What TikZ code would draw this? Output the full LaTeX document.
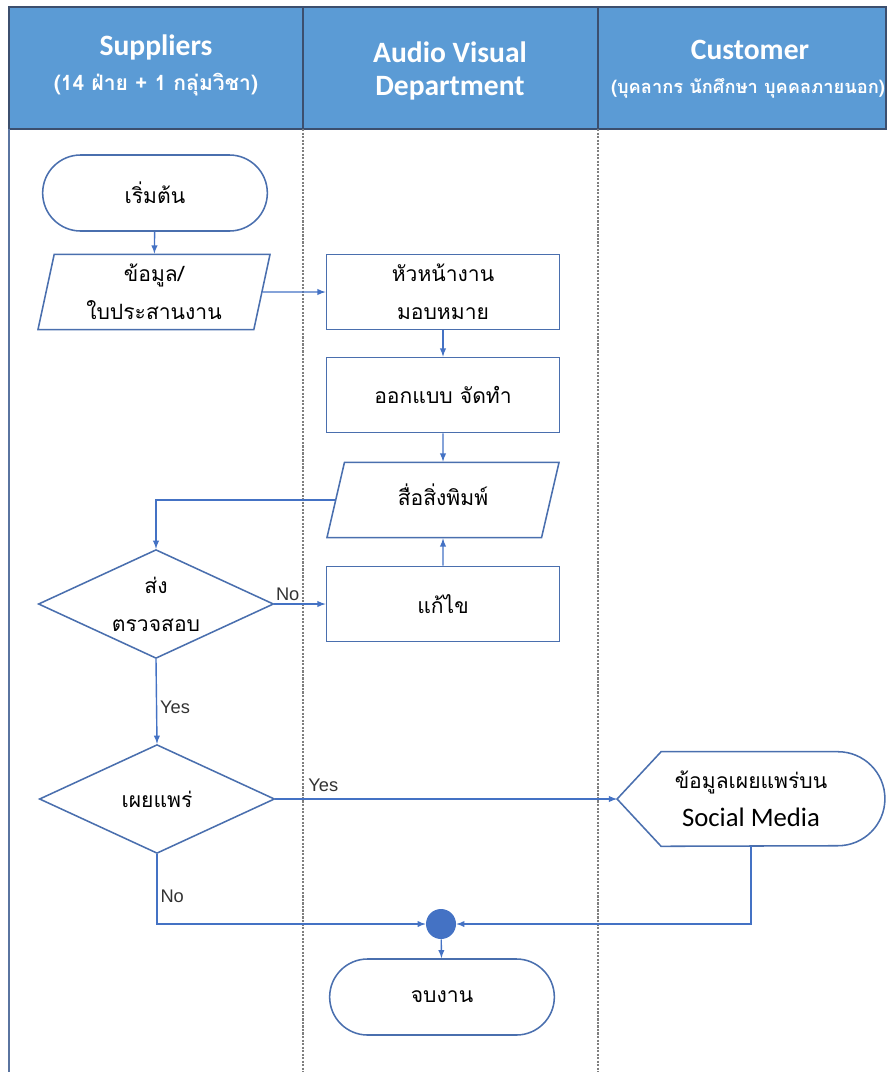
\documentclass[tikz,border=0pt]{standalone}
\usepackage{fontspec}
\setmainfont{Carlito}
\newfontfamily\thaifont[Script=Thai]{Loma}
\newfontfamily\labelfont{Liberation Sans}
\usetikzlibrary{shapes,backgrounds}
\usetikzlibrary{arrows}
\definecolor{headblue}{HTML}{5B9BD5}
\definecolor{headline}{HTML}{3C4F6E}
\definecolor{shapeblue}{HTML}{4A6FAE}
\definecolor{flowblue}{HTML}{4472C4}
\definecolor{laneline}{HTML}{7F7F7F}
\tikzset{
  thaitext/.style={font=\thaifont\fontsize{15}{27}\selectfont, align=center},
  box/.style={rectangle, draw=shapeblue, line width=1.1pt, minimum width=5.83cm, minimum height=1.88cm, thaitext},
  terminal/.style={rounded rectangle, draw=shapeblue, line width=1.1pt, minimum width=5.85cm, minimum height=1.9cm, thaitext},
  iobox/.style={trapezium, trapezium left angle=76, trapezium right angle=104, trapezium stretches body, draw=shapeblue, line width=1.1pt, minimum width=5.8cm, minimum height=1.88cm, thaitext},
  decision/.style={diamond, aspect=2.15, draw=shapeblue, line width=1.1pt, minimum width=5.88cm, minimum height=2.72cm, inner sep=0pt, thaitext},
  flow/.style={-latex, draw=flowblue, line width=1pt},
  tag/.style={font=\labelfont\fontsize{13}{15}\selectfont, text=black!80, inner sep=2pt},
  headtext/.style={text=white, font=\bfseries\fontsize{21}{25}\selectfont},
  headsub/.style={text=white, font=\thaifont\bfseries\fontsize{15}{18}\selectfont}
}
\begin{document}
\begin{tikzpicture}[x=0.025cm, y=-0.025cm]
\useasboundingbox (0,0) rectangle (890,1072);
% lanes
\fill[headblue] (9,7) rectangle (886,129);
\draw[headline, line width=1pt] (9,7) rectangle (886,129);
\foreach \x in {303,598} % lane borders
{
\draw[headline, line width=1pt] (\x,7) -- (\x,129);
\draw[laneline, line width=1.5pt, densely dotted] (\x,129) -- (\x,1072);
}
\draw[shapeblue!70!gray, line width=1.5pt] (9,129) -- (9,1072);
\node[headtext] (suphead) at (156,47) {Suppliers};
\node[headsub] (supsub) at (156,85) {(14 ฝ่าย + 1 กลุ่มวิชา)};
\node[headtext] (avhead) at (450,52) {Audio Visual};
\node[headtext] (avsub) at (450,88) {Department};
\node[headtext] (cushead) at (750,50) {Customer};
\node[headsub, font=\thaifont\bfseries\fontsize{13}{16}\selectfont] (cussub) at (748,88) {(บุคลากร นักศึกษา บุคคลภายนอก)};
% flow shapes
\node[terminal] (start) at (155,193) {เริ่มต้น};
\node[iobox] (data) at (154,292) {ข้อมูล/\\ใบประสานงาน};
\node[box] (lead) at (443,292) {หัวหน้างาน\\มอบหมาย};
\node[box] (design) at (443,395) {ออกแบบ จัดทำ};
\node[iobox, text height=25.6pt, text depth=17.6pt] (media) at (443,500) {สื่อสิ่งพิมพ์};
\node[box] (fix) at (443,604) {แก้ไข};
\node[decision] (check) at (156,604) {ส่ง\\ตรวจสอบ};
\node[decision] (publish) at (157,799) {เผยแพร่};
\node[minimum width=6.68cm, minimum height=2.35cm, align=center, font=\fontsize{19}{27}\selectfont] (social) at (751,799) {{\thaifont\fontsize{15}{27}\selectfont ข้อมูลเผยแพร่บน}\\Social Media};
\draw[shapeblue, line width=1.1pt] (social.west) -- ([xshift=1.1cm]social.north west) -- ([xshift=-1.175cm]social.north east) arc (90:-90:1.175cm) -- ([xshift=1.1cm]social.south west) -- cycle;
\node[circle, fill=flowblue, minimum size=0.75cm, inner sep=0pt] (merge) at (441,924) {};
\node[terminal] (finish) at (442,997) {จบงาน};
% connectors
\draw[flow] (start) -- (data);
\draw[flow] (data) -- (lead);
\draw[flow] (lead) -- (design);
\draw[flow] (design) -- (media);
\draw[flow] (fix) -- (media);
\draw[flow] (media.west) -| (check.north);
\draw[flow] (check.east) -- (fix.west) node[tag, pos=0.26, above] {No};
\draw[flow] (check.south) -- (publish.north) node[tag, pos=0.57, right] {Yes};
\draw[flow] (publish.east) -- (social.west) node[tag, pos=0.14, above, yshift=3pt] {Yes};
\draw[flow] (publish.south) |- (merge.west) node[tag, pos=0.3, right] {No};
\draw[flow] (social.south) |- (merge.east);
\draw[flow] (merge) -- (finish);
\end{tikzpicture}
\end{document}
